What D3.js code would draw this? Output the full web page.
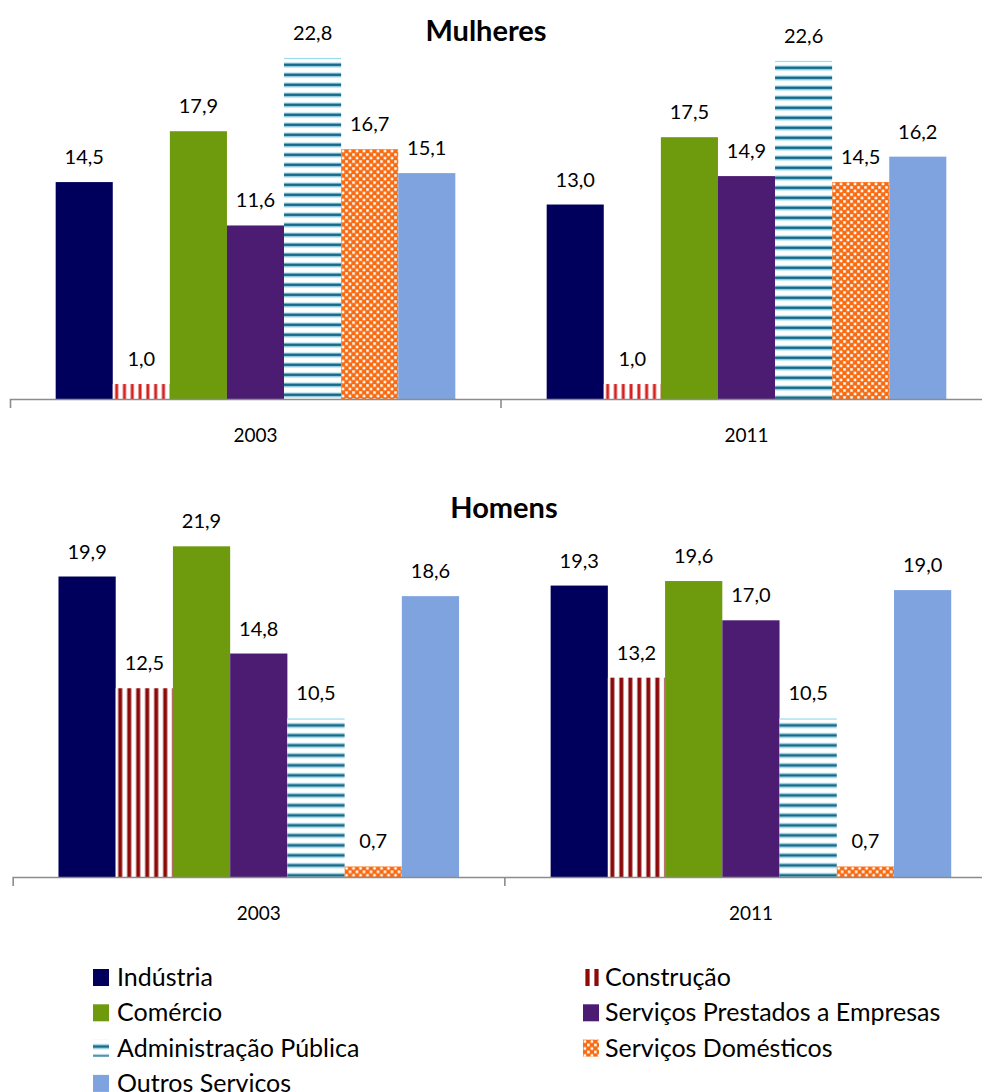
<!DOCTYPE html>
<html><head><meta charset="utf-8">
<script src="https://cdn.jsdelivr.net/npm/d3@7"></script>
<style>
body{margin:0;background:#fff;}
text{font-family:Lato, "Open Sans", sans-serif;fill:#000;}
</style></head>
<body>
<svg id="chart" width="982" height="1092"></svg>
<script>
const categories = ["Indústria","Construção","Comércio","Serviços Prestados a Empresas","Administração Pública","Serviços Domésticos","Outros Servicos"];
const years = ["2003","2011"];
const mulheres2003 = [14.5,1.0,17.9,11.6,22.8,16.7,15.1];
const mulheres2011 = [13.0,1.0,17.5,14.9,22.6,14.5,16.2];
const homens2003 = [19.9,12.5,21.9,14.8,10.5,0.7,18.6];
const homens2011 = [19.3,13.2,19.6,17.0,10.5,0.7,19.0];
const panelTitles = ["Mulheres","Homens"];

const colors = {
  "Indústria":"#00005c",
  "Comércio":"#6e9a0e",
  "Serviços Prestados a Empresas":"#4b1c72",
  "Outros Servicos":"#7ea3df"
};

const svg = d3.select("#chart");
svg.append("rect").attr("width",982).attr("height",1092).attr("fill","#fff");
const defs = svg.append("defs");

function stripesV(id, period, w, color){
  const p = defs.append("pattern").attr("id",id).attr("patternUnits","userSpaceOnUse")
    .attr("width",period).attr("height",10);
  p.append("rect").attr("width",period).attr("height",10).attr("fill","#fff");
  p.append("rect").attr("x",(period-w)/2).attr("width",w).attr("height",10).attr("fill",color);
}
stripesV("constrTop", 7.8, 3, "#d61f1f");
stripesV("constrBot", 9, 4, "#8b0a0a");
stripesV("constrLeg", 9, 4.2, "#8b0a0a");

(function(){
  const p = defs.append("pattern").attr("id","admin").attr("patternUnits","userSpaceOnUse")
    .attr("width",10).attr("height",10);
  p.append("rect").attr("width",10).attr("height",10).attr("fill","#fff");
  p.append("rect").attr("y",4.6).attr("width",10).attr("height",1.2).attr("fill","#9fdcee");
  p.append("rect").attr("y",5.6).attr("width",10).attr("height",3).attr("fill","#176a89");
  p.append("rect").attr("y",8.4).attr("width",10).attr("height",1.2).attr("fill","#9fdcee");
})();
(function(){
  const p = defs.append("pattern").attr("id","dom").attr("patternUnits","userSpaceOnUse")
    .attr("width",7).attr("height",7);
  p.append("rect").attr("width",7).attr("height",7).attr("fill","#f86a10");
  p.append("rect").attr("x",0.6).attr("y",0.6).attr("width",2.6).attr("height",2.6).attr("fill","#fff");
  p.append("rect").attr("x",4.1).attr("y",4.1).attr("width",2.6).attr("height",2.6).attr("fill","#fff");
})();

function fillFor(cat, panel){
  if(cat==="Construção") return panel===0 ? "url(#constrTop)" : "url(#constrBot)";
  if(cat==="Administração Pública") return "url(#admin)";
  if(cat==="Serviços Domésticos") return "url(#dom)";
  return colors[cat];
}
const fmt = v => d3.format(".1f")(v).replace(".",",");

const panels = [
  {title:panelTitles[0], data:[mulheres2003, mulheres2011], x0:10, x1:992, base:399, ppu:14.96, titleX:486, titleY:41},
  {title:panelTitles[1], data:[homens2003, homens2011], x0:12.7, x1:997, base:877, ppu:15.1, titleX:504, titleY:518}
];

panels.forEach((P, pi) => {
  const g = svg.append("g");
  const x0 = d3.scaleBand().domain(years).range([P.x0, P.x1]).padding(0);
  const x1 = d3.scaleBand().domain(categories).range([0, x0.bandwidth()]).paddingInner(0).paddingOuter(0.8);
  const y = d3.scaleLinear().domain([0, 25]).range([P.base, P.base - 25*P.ppu]);

  g.append("text").attr("x",P.titleX).attr("y",P.titleY).attr("text-anchor","middle")
    .attr("font-size",29).attr("font-weight","bold").text(P.title);

  years.forEach((yr, yi) => {
    const rows = categories.map((c,i)=>({cat:c, v:P.data[yi][i]}));
    const bg = g.append("g").attr("transform",`translate(${x0(yr)},0)`);
    const bars = bg.selectAll("g.bar").data(rows).enter().append("g").attr("class","bar")
      .attr("transform", d=>`translate(${x1(d.cat)},${y(d.v)})`);
    bars.append("rect").attr("width",x1.bandwidth()).attr("height",d=>y(0)-y(d.v))
      .attr("fill",d=>fillFor(d.cat,pi));
    bars.filter(d=>d.cat==="Administração Pública").append("rect")
      .attr("width",x1.bandwidth()).attr("height",1.2).attr("fill","#9fdcee");
    bg.selectAll("text.val").data(rows).enter().append("text").attr("class","val")
      .attr("x",d=>x1(d.cat)+x1.bandwidth()/2).attr("y",d=>y(d.v)-18)
      .attr("text-anchor","middle").attr("font-size",20).text(d=>fmt(d.v));
  });

  const axis = d3.axisBottom(x0).tickSizeInner(0).tickSizeOuter(9).tickPadding(30);
  const ag = g.append("g").attr("transform",`translate(0,${P.base})`).call(axis);
  ag.select(".domain").attr("stroke","#8c8c8c").attr("stroke-width",1.6);
  ag.selectAll(".tick text").attr("font-size",19).attr("font-family","Lato, sans-serif").attr("fill","#000");
  ag.selectAll(".tick line").remove();
  ag.selectAll("line.sep").data(years.slice(1)).enter().append("line").attr("class","sep")
    .attr("x1",d=>x0(d)).attr("x2",d=>x0(d)).attr("y1",0).attr("y2",9)
    .attr("stroke","#8c8c8c").attr("stroke-width",1.6);
});

// Legend
const legFill = c => c==="Construção" ? "url(#constrLeg)" : c==="Administração Pública" ? "url(#admin)" : c==="Serviços Domésticos" ? "url(#dom)" : colors[c];
const lg = svg.append("g");
const items = lg.selectAll("g.li").data(categories).enter().append("g").attr("class","li")
  .attr("transform",(d,i)=>`translate(${i%2===0?93:583},${986 + Math.floor(i/2)*35.3})`);
items.append("g").attr("transform","translate(0,-17)")
  .append("rect").attr("width",16).attr("height",17).attr("fill",d=>legFill(d));
items.append("text").attr("x",d=>categories.indexOf(d)%2===0?24:22).attr("y",0).attr("font-size",25).text(d=>d);
</script>
</body></html>
